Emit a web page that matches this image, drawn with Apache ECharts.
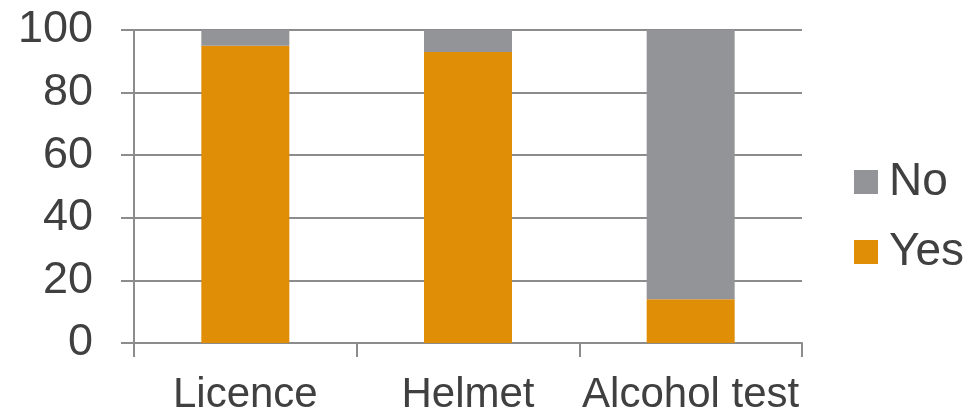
<!DOCTYPE html>
<html>
<head>
<meta charset="utf-8">
<script src="https://cdn.jsdelivr.net/npm/echarts@6/dist/echarts.min.js"></script>
<style>
  html, body { margin: 0; padding: 0; background: #fff; }
  #chart { width: 976px; height: 413px; }
</style>
</head>
<body>
<div id="chart"></div>
<script>
// Data
const categories = ['Licence', 'Helmet', 'Alcohol test']
const yesValues = [95, 93, 14]
const noValues = [5, 7, 86]
const yTicks = { min: 0, max: 100, interval: 20 }

const axisGray = '#8c8c8c'
const textColor = '#404040'
const font = 'Liberation Sans, Arial, sans-serif'

const chart = echarts.init(document.getElementById('chart'))

const option = {
  animation: false,
  grid: { left: 134, right: 174, top: 30, bottom: 70, outerBoundsMode: 'none' },
  legend: {
    orient: 'vertical',
    left: 849,
    top: 154,
    data: ['No', 'Yes'],
    icon: 'rect',
    itemWidth: 24,
    itemHeight: 24,
    itemGap: 24,
    textStyle: {
      fontFamily: font,
      fontSize: 46,
      color: textColor,
      padding: [0, 0, 0, 6]
    }
  },
  xAxis: {
    type: 'category',
    data: categories,
    axisLine: { lineStyle: { color: axisGray, width: 2 } },
    axisTick: { show: true, length: 14, lineStyle: { color: axisGray, width: 2 } },
    axisLabel: { interval: 0, fontFamily: font, fontSize: 42, color: textColor, margin: 31 }
  },
  yAxis: {
    type: 'value',
    min: yTicks.min,
    max: yTicks.max,
    interval: yTicks.interval,
    axisLine: { show: true, lineStyle: { color: axisGray, width: 2 } },
    axisTick: { show: true, length: 13, lineStyle: { color: axisGray, width: 2 } },
    splitLine: { lineStyle: { color: axisGray, width: 2 } },
    axisLabel: { fontFamily: font, fontSize: 45, color: textColor, margin: 41 }
  },
  series: [
    {
      name: 'Yes',
      type: 'bar',
      stack: 'total',
      barWidth: 88,
      data: yesValues,
      itemStyle: { color: '#e08e06' }
    },
    {
      name: 'No',
      type: 'bar',
      stack: 'total',
      barWidth: 88,
      data: noValues,
      itemStyle: { color: '#939497' }
    }
  ]
}

chart.setOption(option)
</script>
</body>
</html>
